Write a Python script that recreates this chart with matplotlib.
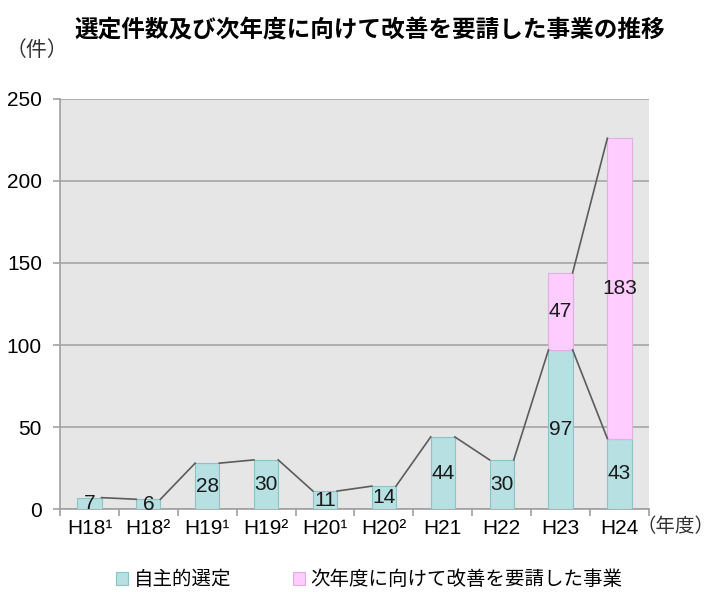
import matplotlib
matplotlib.use("Agg")
import matplotlib.pyplot as plt
import numpy as np

plt.rcParams["font.family"] = ["Liberation Sans", "Noto Sans CJK JP", "DejaVu Sans"]

# data
years = ["H18¹", "H18²", "H19¹", "H19²", "H20¹", "H20²", "H21", "H22", "H23", "H24"]
voluntary = [7, 6, 28, 30, 11, 14, 44, 30, 97, 43]
requested = [None, None, None, None, None, None, None, None, 47, 183]
series_names = ["自主的選定", "次年度に向けて改善を要請した事業"]

teal = "#b6e0e1"
teal_edge = "#8cc4c6"
pink = "#ffccff"
pink_edge = "#e3aee3"
line_col = "#5c5c5c"
fs = 15

fig = plt.figure(figsize=(7.17, 5.92), dpi=100)
ax = fig.add_axes([0.0837, 0.140, 0.8213, 0.693])
ax.set_facecolor("#e6e6e6")

x = np.arange(len(years))
width = 0.41
req = np.array([0 if v is None else v for v in requested], dtype=float)
vol = np.array(voluntary, dtype=float)

b1 = ax.bar(x, vol, width, color=teal, edgecolor=teal_edge, linewidth=0.8, zorder=3,
            label=series_names[0])
mask = np.array([v is not None for v in requested])
b2 = ax.bar(x[mask], req[mask], width, bottom=vol[mask], color=pink, edgecolor=pink_edge,
            linewidth=0.8, zorder=3, label=series_names[1])

# series lines (Excel-style connectors between bar tops)
for i in range(len(x) - 1):
    ax.plot([x[i] + width / 2, x[i + 1] - width / 2], [vol[i], vol[i + 1]],
            color=line_col, lw=1.2, zorder=4)
    if mask[i] and mask[i + 1]:
        ax.plot([x[i] + width / 2, x[i + 1] - width / 2],
                [vol[i] + req[i], vol[i + 1] + req[i + 1]],
                color=line_col, lw=1.2, zorder=4)

# value labels
for i in range(len(x)):
    ax.text(x[i], vol[i] / 2, str(voluntary[i]), ha="center", va="center",
            fontsize=fs, color="#1a1a1a", zorder=5)
    if mask[i]:
        ax.text(x[i], vol[i] + req[i] / 2, str(requested[i]), ha="center", va="center",
                fontsize=fs, color="#1a1a1a", zorder=5)

ax.set_xlim(-0.5, len(years) - 0.5)
ax.set_ylim(0, 250)
ax.set_yticks(np.arange(0, 251, 50))
ax.yaxis.grid(True, color="#a6a6a6", lw=1.2, zorder=1)
ax.set_axisbelow(True)

ax.set_xticks(x)
ax.set_xticklabels(years, fontsize=fs)
ax.set_xticks(np.arange(-0.5, len(years), 1), minor=True)
ax.tick_params(axis="x", which="major", length=0, pad=7)
ax.tick_params(axis="x", which="minor", length=5, color="#a0a0a0", width=1.2)
ax.tick_params(axis="y", length=5, color="#a0a0a0", width=1.2, pad=8, labelsize=fs)

for side in ["top", "right"]:
    ax.spines[side].set_visible(False)
for side in ["left", "bottom"]:
    ax.spines[side].set_color("#a0a0a0")
    ax.spines[side].set_linewidth(1.2)

fig.text(0.516, 0.947, "選定件数及び次年度に向けて改善を要請した事業の推移",
         ha="center", va="center", fontsize=17, fontweight="bold")
fig.text(0.052, 0.916, "（件）", ha="center", va="center", fontsize=fs, color="#333333")
fig.text(0.997, 0.110, "（年度）", ha="right", va="center", fontsize=14, color="#333333")

fig.legend(handles=[b1, b2], labels=series_names, loc="center", ncol=2,
           bbox_to_anchor=(0.515, 0.02), frameon=False, fontsize=14,
           handlelength=0.6, handleheight=0.6, handletextpad=0.3, columnspacing=3.2)

fig.savefig("out.png", dpi=100)
